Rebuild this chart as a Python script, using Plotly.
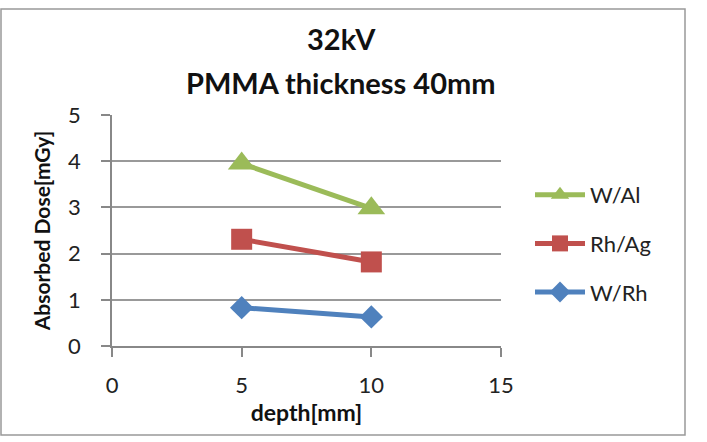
import plotly.graph_objects as go

depth = [5, 10]
series_names = ["W/Rh", "Rh/Ag", "W/Al"]
w_rh = [0.83, 0.63]
rh_ag = [2.31, 1.82]
w_al = [3.95, 2.98]
x_ticks = [0, 5, 10, 15]
y_ticks = [0, 1, 2, 3, 4, 5]
title_lines = ["32kV", "PMMA thickness 40mm"]

colors = ["#4F81BD", "#C0504D", "#9BBB59"]
symbols = ["diamond", "square", "triangle-up"]
sizes = [18, 21, 24]
ranks = [3, 2, 1]
values = [w_rh, rh_ag, w_al]

fig = go.Figure()
for name, vals, c, s, sz, rk in zip(series_names, values, colors, symbols, sizes, ranks):
    fig.add_trace(go.Scatter(
        x=depth, y=vals, name=name, mode="lines+markers",
        line=dict(color=c, width=5),
        marker=dict(symbol=s, size=sz, color=c),
        legendgroup=name, legendrank=rk,
    ))

FONT = "Lato"
W, H = 707, 442
L, R, T, B = 112, 206, 115, 96
pw, ph = W - L - R, H - T - B

def px_to_paper_x(px):
    return (px - L) / pw

def px_to_paper_y(py):
    return (H - B - py) / ph

annotations = []
for txt, yc in zip(title_lines, [38, 82]):
    annotations.append(dict(text="<b>%s</b>" % txt, xref="paper", yref="paper",
                            x=px_to_paper_x(341), y=px_to_paper_y(yc),
                            xanchor="center", yanchor="middle", showarrow=False,
                            font=dict(family=FONT, size=29, color="#111")))

fig.update_layout(
    width=W, height=H,
    margin=dict(l=L, r=R, t=T, b=B),
    paper_bgcolor="white", plot_bgcolor="white",
    font=dict(family=FONT, color="#222"),
    annotations=annotations,
    xaxis=dict(range=[0, 15], tickvals=x_ticks, showgrid=False,
               showline=True, linecolor="#888", linewidth=1.5,
               ticks="outside", ticklen=9, tickcolor="#888", tickwidth=1.5,
               ticklabelstandoff=10,
               tickfont=dict(size=22, color="#222"),
               title=dict(text="<b>depth[mm]</b>", font=dict(size=23, color="#111"), standoff=6),
               zeroline=False, fixedrange=True),
    yaxis=dict(range=[0, 5], tickvals=y_ticks, showgrid=True, gridcolor="#999", gridwidth=1.5,
               showline=True, linecolor="#888", linewidth=1.5,
               ticks="outside", ticklen=9, tickcolor="#888", tickwidth=1.5,
               ticklabelstandoff=16,
               tickfont=dict(size=22, color="#222"),
               title=dict(text="<b>Absorbed Dose[mGy]</b>", font=dict(size=21, color="#111"), standoff=12),
               zeroline=False, fixedrange=True),
    legend=dict(x=px_to_paper_x(530), y=px_to_paper_y(174), xanchor="left", yanchor="top",
                traceorder="grouped", tracegroupgap=17,
                font=dict(family=FONT, size=22, color="#222"),
                bgcolor="rgba(0,0,0,0)", itemwidth=50),
    showlegend=True,
    shapes=[dict(type="rect", xref="paper", yref="paper",
                 x0=px_to_paper_x(1), x1=px_to_paper_x(685),
                 y0=px_to_paper_y(435), y1=px_to_paper_y(9),
                 line=dict(color="#999", width=1.5), layer="below")],
)

fig.write_html("out.html")
